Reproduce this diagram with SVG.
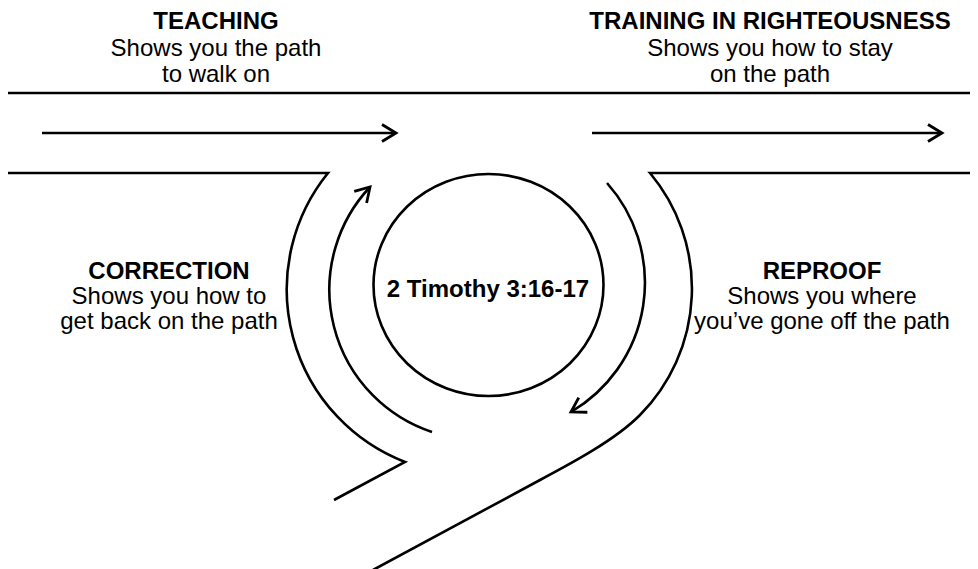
<svg xmlns="http://www.w3.org/2000/svg" width="978" height="569" viewBox="0 0 978 569">
<defs>
<style>
.ln{fill:none;stroke:#000;stroke-width:2.6;stroke-linecap:butt;stroke-linejoin:miter}
.t{font-family:"Liberation Sans",Arial,sans-serif;font-size:24px;fill:#000;text-anchor:middle}
.b{font-weight:bold}
</style>
<marker id="ah" markerUnits="userSpaceOnUse" markerWidth="30" markerHeight="30" viewBox="-20 -15 30 30" refX="0" refY="0" orient="auto">
<path d="M-14,-8.5 L0,0 L-14,8.5" fill="none" stroke="#000" stroke-width="2.8"/>
</marker>
</defs>
<rect width="978" height="569" fill="#fff"/>
<g id="connectors">
<path class="ln" d="M8,93 H970"/>
<path class="ln" d="M8,173 H328 A185,185 0 0 0 405,462 L334,500"/>
<path class="ln" d="M970,173 H650 A180,180 0 0 1 640,415 C615.4,439.9 570.9,463.6 540,480 L373,570"/>
<path class="ln" d="M42,133 H396" marker-end="url(#ah)"/>
<path class="ln" d="M592,133 H942" marker-end="url(#ah)"/>
<path class="ln" d="M432,432 A150,150 0 0 1 370,187" marker-end="url(#ah)"/>
<path class="ln" d="M607,183 A150,150 0 0 1 571,412" marker-end="url(#ah)"/>
</g>
<g id="teaching">
<text class="t b" x="216" y="29">TEACHING</text>
<text class="t" x="216" y="56">Shows you the path</text>
<text class="t" x="216" y="82">to walk on</text>
</g>
<g id="training">
<text class="t b" x="770" y="29">TRAINING IN RIGHTEOUSNESS</text>
<text class="t" x="770" y="56">Shows you how to stay</text>
<text class="t" x="770" y="82">on the path</text>
</g>
<g id="correction">
<text class="t b" x="169" y="279">CORRECTION</text>
<text class="t" x="169" y="304">Shows you how to</text>
<text class="t" x="169" y="329">get back on the path</text>
</g>
<g id="reproof">
<text class="t b" x="822" y="279">REPROOF</text>
<text class="t" x="822" y="304">Shows you where</text>
<text class="t" x="822" y="329">you’ve gone off the path</text>
</g>
<g id="scripture">
<ellipse class="ln" cx="488.5" cy="285" rx="115" ry="111"/>
<text class="t b" x="488" y="297">2 Timothy 3:16-17</text>
</g>
</svg>
